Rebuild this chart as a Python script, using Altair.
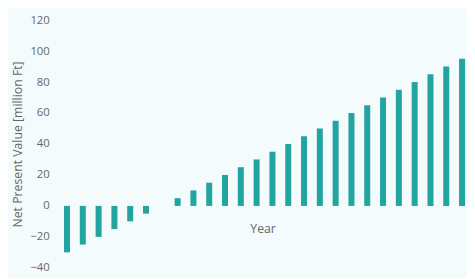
import altair as alt
import pandas as pd

years = list(range(1, 27))
npv = [-30, -25, -20, -15, -10, -5, 0, 5, 10, 15, 20, 25, 30, 35, 40, 45, 50, 55,
       60, 65, 70, 75, 80, 85, 90, 95]
y_ticks = [-40, -20, 0, 20, 40, 60, 80, 100, 120]

df = pd.DataFrame({"Year": years, "NPV": npv})

chart = alt.Chart(df).mark_bar(color="#23a4a1").encode(
    x=alt.X("Year:O",
            scale=alt.Scale(paddingInner=0.62, paddingOuter=0.06),
            axis=alt.Axis(labels=False, ticks=False, domain=False, grid=False,
                          title="Year", titleX=203, titleY=-46,
                          titleFont="Open Sans", titleFontSize=12.5,
                          titleFontWeight="normal", titleColor="#666666")),
    y=alt.Y("NPV:Q",
            scale=alt.Scale(domain=[-40, 120], nice=False, zero=False),
            axis=alt.Axis(values=y_ticks, grid=False, domain=False, ticks=False,
                          labelPadding=14, labelFont="Open Sans", labelFontSize=11.5,
                          labelColor="#666666",
                          title="Net Present Value [million Ft]",
                          titleFont="Open Sans", titleFontSize=12.5,
                          titleFontWeight="normal", titleColor="#666666",
                          titlePadding=6)),
).properties(
    width=410, height=252,
    background="#f3fbfc",
    padding={"left": 56, "top": 10, "right": 1, "bottom": 8},
    autosize=alt.AutoSizeParams(type="none"),
).configure_view(stroke=None)

chart.save("out.html", embed_options={"renderer": "svg", "actions": False})
